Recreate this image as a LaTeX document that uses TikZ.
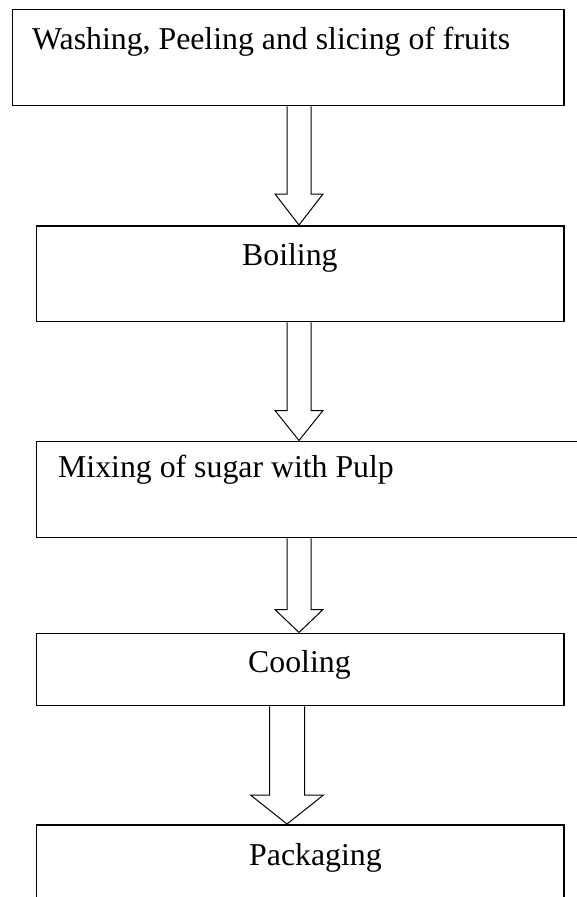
\documentclass[tikz,border=0pt]{standalone}
\usepackage{fontspec}
\setmainfont{Liberation Serif}
\usetikzlibrary{calc}
\tikzset{
  box/.style={draw=black, line width=1.8pt, rectangle, inner sep=0pt, anchor=north west},
  lbl/.style={anchor=base west, inner sep=0pt, font=\fontsize{31.8}{36}\selectfont},
  blk/.style={draw=black, line width=1pt, line join=miter, fill=white}
}
% \blockarrow{from}{to}{center x}{shaft half}{head half}{head length}
\newcommand{\blockarrow}[6]{%
  \path let \p1=(#1.south), \p2=(#2.north) in
    [blk] ({#3-#4},\y1) -- ({#3-#4},\y2+#6pt) -- ({#3-#5},\y2+#6pt) -- (#3,\y2)
      -- ({#3+#5},\y2+#6pt) -- ({#3+#4},\y2+#6pt) -- ({#3+#4},\y1);
}
\begin{document}
\begin{tikzpicture}[x=1pt,y=-1pt]
\useasboundingbox (0,0) rectangle (577,897);
\clip (0,0) rectangle (577,897);
\node[box, minimum width=551.5pt, minimum height=96pt] (b1) at (11.5,8.5) {};
\node[box, minimum width=527.5pt, minimum height=95.5pt] (b2) at (35.5,225) {};
\node[box, minimum width=560pt, minimum height=96pt] (b3) at (35.5,440.5) {};
\node[box, minimum width=527.5pt, minimum height=72pt] (b4) at (35.5,632.5) {};
\node[box, minimum width=527.5pt, minimum height=100pt] (b5) at (35.5,824) {};
\node[lbl] (t1) at (32,49) {Washing, Peeling and slicing of fruits};
\node[lbl] (t2) at (242,265) {Boiling};
\node[lbl] (t3) at (58,477) {Mixing of sugar with Pulp};
\node[lbl] (t4) at (248,672) {Cooling};
\node[lbl] (t5) at (249,865) {Packaging};
\blockarrow{b1}{b2}{299}{12}{24}{31}
\blockarrow{b2}{b3}{299}{12}{24}{30}
\blockarrow{b3}{b4}{299}{12}{24}{23}
\blockarrow{b4}{b5}{287}{17.5}{36.5}{29}
\end{tikzpicture}
\end{document}
